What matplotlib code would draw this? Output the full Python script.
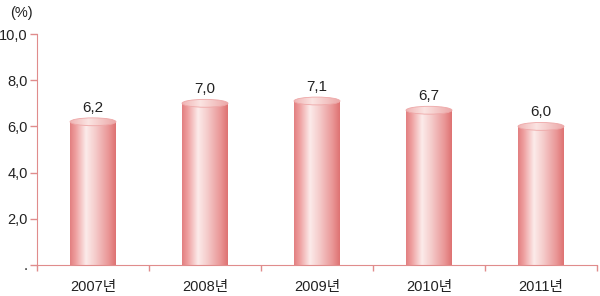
import numpy as np
import matplotlib
matplotlib.use("Agg")
import matplotlib.pyplot as plt
from matplotlib.patches import Rectangle, Ellipse
from matplotlib.colors import LinearSegmentedColormap
from matplotlib import font_manager

names = {f.name for f in font_manager.fontManager.ttflist}
narrow = 'Liberation Sans Narrow' if 'Liberation Sans Narrow' in names else 'Liberation Sans'
plt.rcParams['font.family'] = [narrow, 'Noto Sans CJK KR', 'DejaVu Sans']

years = ['2007년', '2008년', '2009년', '2010년', '2011년']
values = [6.2, 7.0, 7.1, 6.7, 6.0]
labels = ['6,2', '7,0', '7,1', '6,7', '6,0']
yticks = [0, 2, 4, 6, 8, 10]
yticklabels = ['.', '2,0', '4,0', '6,0', '8,0', '10,0']

fig = plt.figure(figsize=(6.0, 2.96), dpi=100)
ax = fig.add_axes([37/600, 31/296, 560/600, 231/296])
ax.set_xlim(0, 5)
ax.set_ylim(0, 10)

body_cmap = LinearSegmentedColormap.from_list('body', [
    (0.0, '#e27f80'), (0.12, '#ee9e9e'), (0.35, '#fcebea'),
    (0.55, '#f5cccb'), (0.85, '#e99494'), (1.0, '#de7272')])
top_cmap = LinearSegmentedColormap.from_list('top', [
    (0.0, '#f0b4b4'), (0.4, '#fbe4e2'), (1.0, '#eca8a8')])

bw = 0.41
cap_h = 0.34
grad = np.linspace(0, 1, 256).reshape(1, -1)
for i, v in enumerate(values):
    xc = i + 0.5
    x0 = xc - bw/2
    im = ax.imshow(grad, cmap=body_cmap, aspect='auto',
                   extent=[x0, x0 + bw, 0, v], zorder=2, interpolation='bilinear')
    clip = Rectangle((x0, 0), bw, v, transform=ax.transData)
    im.set_clip_path(clip)
    im2 = ax.imshow(grad, cmap=top_cmap, aspect='auto',
                    extent=[x0, x0 + bw, v - cap_h/2, v + cap_h/2], zorder=3,
                    interpolation='bilinear')
    ell = Ellipse((xc, v), bw, cap_h, transform=ax.transData)
    im2.set_clip_path(ell)
    ax.add_patch(Ellipse((xc, v), bw, cap_h, fill=False, edgecolor='#eea8a8',
                         lw=0.6, zorder=4))
    ax.text(xc, v + 0.3, labels[i], ha='center', va='bottom', fontsize=11,
            color='#222222')

spine_c = '#e08c8c'
for s in ['top', 'right']:
    ax.spines[s].set_visible(False)
ax.spines['left'].set_color(spine_c)
ax.spines['bottom'].set_color(spine_c)

ax.set_yticks(yticks)
ax.set_yticklabels(yticklabels, fontsize=10.5, color='#222222')
ax.tick_params(axis='y', colors=spine_c, labelcolor='#222222', length=5, width=1, pad=1.5)
ax.set_xticks(range(0, 6))
ax.set_xticklabels([])
ax.set_xticks([i + 0.5 for i in range(5)], minor=True)
ax.set_xticklabels(years, minor=True, fontsize=10.5, color='#222222')
ax.tick_params(axis='x', which='major', colors=spine_c, length=4, width=1, direction='out')
ax.tick_params(axis='x', which='minor', length=0, pad=11, labelcolor='#222222')

fig.text(10/600, 1 - 13/296, '(%)', fontsize=10.5, ha='left', va='center',
         color='#222222')

fig.savefig('out.png', dpi=100)
